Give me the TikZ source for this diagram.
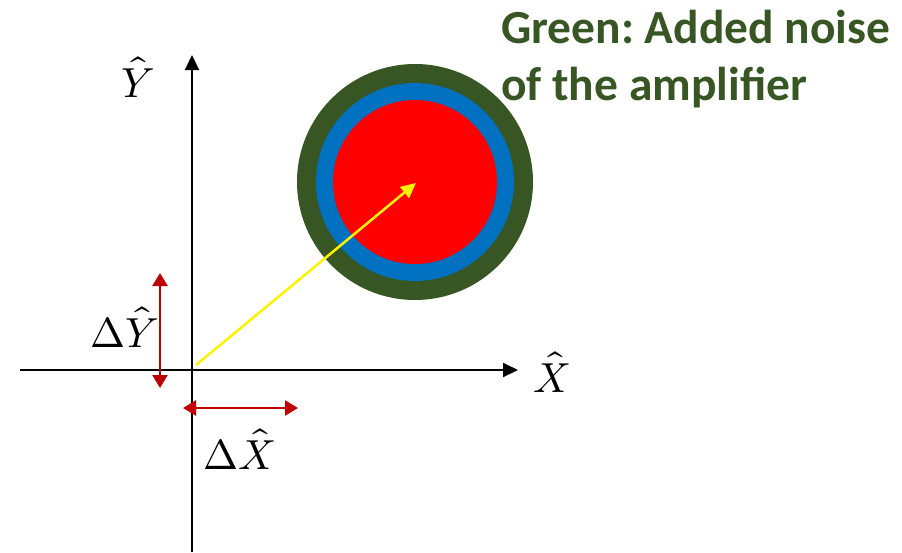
\documentclass[tikz,border=0pt]{standalone}
\usepackage{fontspec}
\usepackage{unicode-math}
\setmainfont{Carlito}
\setmathfont{Latin Modern Math}
\usetikzlibrary{arrows.meta}
\definecolor{noisegreen}{HTML}{375623}
\definecolor{vacblue}{HTML}{0070C0}
\definecolor{darkred}{HTML}{C00000}
\frenchspacing
\begin{document}
\begin{tikzpicture}[x=1pt,y=-1pt,
  axis/.style={line width=2pt,-{Triangle[width=14pt,length=15pt]}},
  delta/.style={line width=2.5pt,darkred,{Triangle[width=15pt,length=13pt]}-{Triangle[width=15pt,length=13pt]}},
  mathlbl/.style={font=\fontsize{42}{48}\selectfont, inner sep=0pt},
  notetext/.style={anchor=base west, inner sep=0pt, text=noisegreen,
    font=\fontsize{47.5}{57}\selectfont\bfseries}]
\useasboundingbox (0,0) rectangle (902,552);
% circles
\fill[noisegreen] (415,182) circle[radius=118];
\fill[vacblue] (415,182) circle[radius=99];
\fill[red] (415,182) circle[radius=82];
% axes
\coordinate (yb) at (192,552);
\coordinate (yt) at (192,55);
\coordinate (xl) at (20,370);
\coordinate (xr) at (518,370);
\draw[axis] (yb) -- (yt);
\draw[axis] (xl) -- (xr);
% yellow vector
\coordinate (o) at (196,365);
\coordinate (c) at (416,183);
\draw[line width=2.5pt, yellow, -{Triangle[width=14pt,length=15pt]}] (o) -- (c);
% deltas
\coordinate (dy1) at (160,273);
\coordinate (dy2) at (160,388);
\draw[delta] (dy1) -- (dy2);
\coordinate (dx1) at (183,408);
\coordinate (dx2) at (298,408);
\draw[delta] (dx1) -- (dx2);
% labels
\node[mathlbl] (ly) at (138,77) {$\hat{Y}$};
\node[mathlbl] (lx) at (552,372) {$\hat{X}$};
\node[mathlbl] (ldy) at (125,327) {$\Delta\hat{Y}$};
\node[mathlbl] (ldx) at (239,449) {$\Delta\hat{X}$};
\node[notetext] (note1) at (501,43) {Green: Added noise};
\node[notetext] (note2) at (501,100) {of the amplifier};
\end{tikzpicture}
\end{document}
